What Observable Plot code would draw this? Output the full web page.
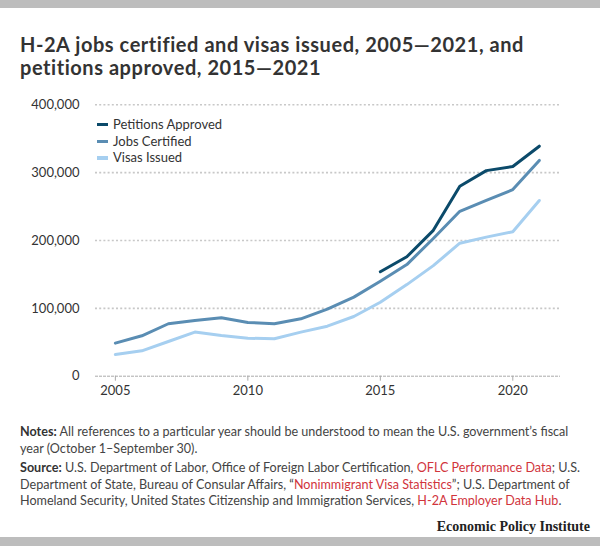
<!DOCTYPE html>
<html>
<head>
<meta charset="utf-8">
<script src="https://cdn.jsdelivr.net/npm/d3@7"></script>
<script src="https://cdn.jsdelivr.net/npm/@observablehq/plot@0.6"></script>
<style>
  html, body { margin: 0; padding: 0; background: #fff; }
  body { width: 600px; height: 546px; position: relative; overflow: hidden; font-family: Lato, "Open Sans", sans-serif; color: #333; }
  .bar { position: absolute; left: 0; width: 600px; background: #bdbdbd; }
  #title { position: absolute; left: 20px; top: 33px; width: 575px; font-weight: 700; font-size: 20px; letter-spacing: 0.55px; line-height: 23px; color: #333; }
  #chart { position: absolute; left: 0; top: 90px; }
  #legend { position: absolute; left: 97px; top: 116px; font-size: 13px; color: #333; }
  #legend div { height: 16.7px; line-height: 16.7px; white-space: nowrap; }
  #legend span.sw { display: inline-block; width: 11px; height: 3.5px; vertical-align: middle; margin-right: 5px; position: relative; top: -1px; }
  .foot { position: absolute; left: 20px; width: 570px; font-size: 12.6px; line-height: 16.6px; color: #444; }
  .foot b { color: #333; }
  .foot a { color: #d1343c; text-decoration: none; }
  #epi { position: absolute; right: 10px; top: 519px; font-family: "Liberation Serif", "DejaVu Serif", serif; font-weight: 700; font-size: 14px; color: #222; }
</style>
</head>
<body>
<div class="bar" style="top:0;height:8px"></div>
<div id="title">H-2A jobs certified and visas issued, 2005—2021, and<br>petitions approved, 2015—2021</div>
<div id="chart"></div>
<div id="legend"></div>
<div class="foot" style="top:424px"><b>Notes:</b> All references to a particular year should be understood to mean the U.S. government’s fiscal year (October 1–September 30).</div>
<div class="foot" style="top:460px"><b>Source:</b> U.S. Department of Labor, Office of Foreign Labor Certification, <a>OFLC Performance Data</a>; U.S. Department of State, Bureau of Consular Affairs, “<a>Nonimmigrant Visa Statistics</a>”; U.S. Department of Homeland Security, United States Citizenship and Immigration Services, <a>H-2A Employer Data Hub</a>.</div>
<div id="epi">Economic Policy Institute</div>
<div class="bar" style="top:537px;height:9px"></div>
<script>
const years = [2005, 2006, 2007, 2008, 2009, 2010, 2011, 2012, 2013, 2014, 2015, 2016, 2017, 2018, 2019, 2020, 2021];
const petitionsApproved = [null, null, null, null, null, null, null, null, null, null, 154000, 176000, 215000, 280000, 303000, 309000, 339000];
const jobsCertified = [48700, 59600, 77300, 82200, 86000, 79200, 77300, 84600, 98900, 116500, 140000, 164500, 203000, 243000, 259000, 275000, 318000];
const visasIssued = [32000, 37400, 51200, 65000, 60000, 56000, 55100, 65000, 73700, 88000, 109000, 135000, 163000, 196000, 205000, 213000, 259000];
const seriesNames = ["Petitions Approved", "Jobs Certified", "Visas Issued"];
const seriesColors = ["#0b4a6a", "#5a8db3", "#a6cff0"];
const yTicks = [0, 100000, 200000, 300000, 400000];
const xTicks = [2005, 2010, 2015, 2020];

const seriesValues = [petitionsApproved, jobsCertified, visasIssued];
const rows = [];
seriesNames.forEach((name, i) => {
  years.forEach((yr, j) => {
    const v = seriesValues[i][j];
    if (v != null) rows.push({series: name, year: yr, value: v});
  });
});

const chart = Plot.plot({
  width: 600,
  height: 320,
  marginTop: 14.3,
  marginBottom: 34.3,
  marginLeft: 95,
  marginRight: 40,
  style: {fontFamily: "Lato, sans-serif", fontSize: "13px", color: "#333", background: "transparent"},
  x: {domain: [2004.25, 2021.8], ticks: xTicks, tickFormat: d => String(d), tickSize: 5, tickPadding: 4, label: null},
  y: {domain: [0, 400000], ticks: yTicks, tickFormat: d3.format(","), tickSize: 0, tickPadding: 16, label: null},
  color: {domain: seriesNames, range: seriesColors},
  marks: [
    Plot.ruleY(yTicks.filter(d => d > 0), {stroke: "#c8c8c8", strokeWidth: 1.6, strokeDasharray: "2,2.2"}),
    Plot.ruleY([0], {stroke: "#aaa", strokeWidth: 1, strokeDasharray: "3,1"}),
    Plot.axisX({ticks: xTicks, tickFormat: d => String(d), tickSize: 5, tickPadding: 5, stroke: "#aaa", fill: "#333", label: null}),
    Plot.axisY({ticks: yTicks, tickFormat: d3.format(","), tickSize: 0, tickPadding: 16, fill: "#333", label: null}),
    Plot.line(rows, {x: "year", y: "value", z: "series", stroke: "series", strokeWidth: 3, strokeLinejoin: "round", strokeLinecap: "round"})
  ]
});
document.getElementById("chart").appendChild(chart);

const legend = document.getElementById("legend");
seriesNames.forEach((name, i) => {
  const row = document.createElement("div");
  const sw = document.createElement("span");
  sw.className = "sw";
  sw.style.background = seriesColors[i];
  row.appendChild(sw);
  row.appendChild(document.createTextNode(name));
  legend.appendChild(row);
});
</script>
</body>
</html>
